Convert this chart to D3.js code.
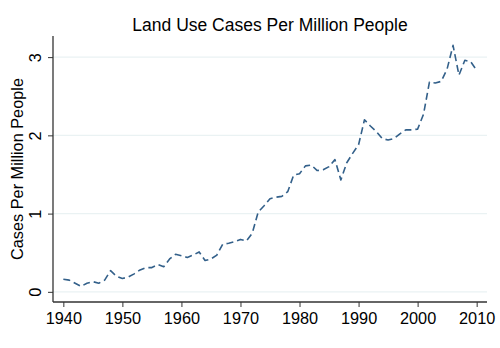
<!DOCTYPE html>
<html>
<head>
<meta charset="utf-8">
<script src="https://cdn.jsdelivr.net/npm/d3@7"></script>
<style>
  html, body { margin: 0; padding: 0; background: #fff; }
  svg { display: block; font-family: "Liberation Sans", Arial, Helvetica, sans-serif; }
</style>
</head>
<body>
<svg id="chart" width="500" height="348"></svg>
<script>
const title = "Land Use Cases Per Million People";
const yTitle = "Cases Per Million People";
const years = [1940,1941,1942,1943,1944,1945,1946,1947,1948,1949,
  1950,1951,1952,1953,1954,1955,1956,1957,1958,1959,
  1960,1961,1962,1963,1964,1965,1966,1967,1968,1969,
  1970,1971,1972,1973,1974,1975,1976,1977,1978,1979,
  1980,1981,1982,1983,1984,1985,1986,1987,1988,1989,
  1990,1991,1992,1993,1994,1995,1996,1997,1998,1999,
  2000,2001,2002,2003,2004,2005,2006,2007,2008,2009,2010];
const cases = [0.16,0.15,0.11,0.07,0.11,0.13,0.11,0.15,0.27,0.20,
  0.17,0.19,0.23,0.28,0.31,0.31,0.35,0.32,0.42,0.48,
  0.46,0.44,0.47,0.51,0.40,0.42,0.47,0.61,0.62,0.64,
  0.67,0.65,0.75,1.02,1.10,1.19,1.21,1.22,1.28,1.49,
  1.51,1.61,1.62,1.55,1.56,1.60,1.69,1.43,1.65,1.77,
  1.88,2.20,2.12,2.05,1.96,1.94,1.96,2.02,2.07,2.07,
  2.08,2.27,2.68,2.67,2.69,2.85,3.15,2.77,2.96,2.94,2.83];
const xTicks = [1940,1950,1960,1970,1980,1990,2000,2010];
const yTicks = [0,1,2,3];

(function () {
const svg = d3.select("#chart");
const pl = 53, pr = 487, pt = 36, pb = 302;

const x = d3.scaleLinear().domain([1938.25, 2011.75]).range([pl, pr]);
const y = d3.scaleLinear().domain([-0.13, 3.27]).range([pb, pt]);

// gridlines
svg.append("g").selectAll("line").data(yTicks).join("line")
  .attr("x1", pl).attr("x2", pr)
  .attr("y1", d => y(d)).attr("y2", d => y(d))
  .attr("stroke", "#eaf2f3").attr("stroke-width", 1.2);

// title
svg.append("text").attr("x", 270).attr("y", 30.5)
  .attr("text-anchor", "middle").attr("font-size", 17.5).attr("fill", "#000")
  .text(title);

// x axis
const xAxis = d3.axisBottom(x).tickValues(xTicks).tickFormat(d3.format("d"))
  .tickSize(5).tickSizeOuter(0).tickPadding(5);
const gx = svg.append("g").attr("transform", `translate(0,${pb})`).call(xAxis);
gx.select(".domain").attr("stroke", "#333").attr("stroke-width", 1.3)
  .attr("d", `M${pl},0H${pr}`);
gx.selectAll(".tick line").attr("stroke", "#333");
gx.selectAll(".tick text").attr("font-size", 16.3).attr("fill", "#000")
  .attr("font-family", "Liberation Sans, Arial, sans-serif");

// y axis
const yAxis = d3.axisLeft(y).tickValues(yTicks).tickFormat(d3.format("d"))
  .tickSize(5).tickSizeOuter(0).tickPadding(4);
const gy = svg.append("g").attr("transform", `translate(${pl},0)`).call(yAxis);
gy.select(".domain").attr("stroke", "#333").attr("stroke-width", 1.3)
  .attr("d", `M0,${pt}V${pb}`);
gy.selectAll(".tick line").attr("stroke", "#333");
gy.selectAll(".tick text")
  .attr("font-size", 16.3).attr("fill", "#000")
  .attr("font-family", "Liberation Sans, Arial, sans-serif")
  .attr("x", null).attr("dy", null)
  .attr("text-anchor", "middle")
  .attr("transform", "translate(-12.5,0) rotate(-90)")
  .attr("y", 0);

// y title
svg.append("text")
  .attr("transform", `translate(23,${(pt + pb) / 2}) rotate(-90)`)
  .attr("text-anchor", "middle").attr("font-size", 16.3).attr("fill", "#000")
  .text(yTitle);

// line
const line = d3.line().x((d, i) => x(years[i])).y(d => y(d));
svg.append("path").datum(cases)
  .attr("d", line)
  .attr("fill", "none")
  .attr("stroke", "#33608a")
  .attr("stroke-width", 1.6)
  .attr("stroke-dasharray", "7,4")
  .attr("stroke-linejoin", "round");
})();
</script>
</body>
</html>
